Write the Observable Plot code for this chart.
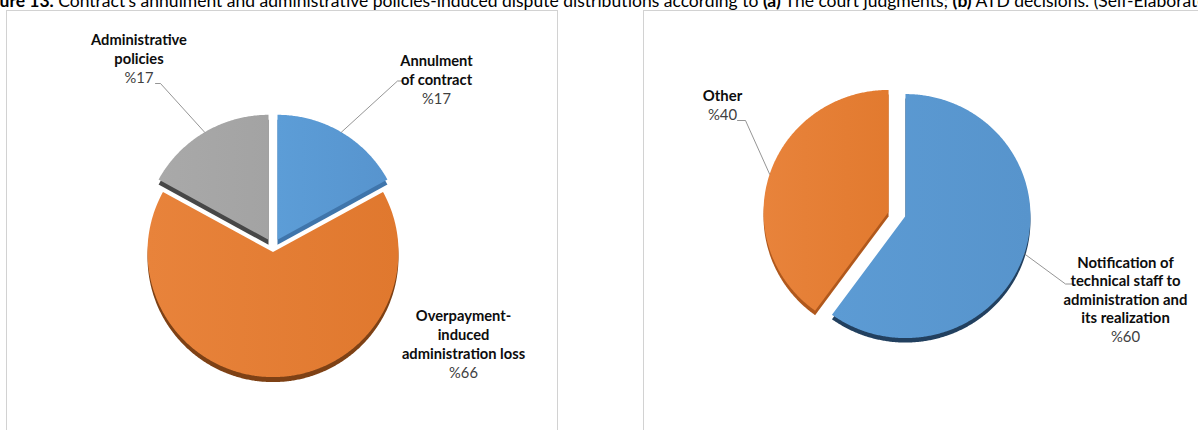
<!DOCTYPE html>
<html>
<head>
<meta charset="utf-8">
<script src="https://cdn.jsdelivr.net/npm/d3@7"></script>
<script src="https://cdn.jsdelivr.net/npm/@observablehq/plot@0.6"></script>
<style>
  html, body { margin: 0; padding: 0; background: #fff; overflow: hidden; width: 1198px; height: 430px; }
  #cap { position: absolute; left: 0; top: 0; width: 1198px; height: 10px; overflow: hidden; z-index: 2; }
  #capText { position: absolute; white-space: nowrap; font-family: Lato, "Open Sans", sans-serif; color: #000; line-height: normal; }
  #chart { position: absolute; left: 0; top: 10px; }
</style>
</head>
<body>
<div id="cap"><span id="capText"><b><span id="fig">Fig</span>ure 13.</b> Contract’s annulment and administrative policies-induced dispute distributions according to <b>(a)</b> The court judgments; <b>(b)</b> ATD decisions. (Self-Elaborat<span id="mk"></span>ed)<span id="bl" style="display:inline-block;width:0;height:0"></span></span></div>
<div id="chart"></div>
<script>
// ---------------- data ----------------
const courtCategories = ["Annulment\nof contract", "Overpayment-\ninduced\nadministration loss", "Administrative\npolicies"];
const courtValues = [17, 66, 17];
const courtPercentLabels = ["%17", "%66", "%17"];

const atdCategories = ["Notification of\ntechnical staff to\nadministration and\nits realization", "Other"];
const atdValues = [60, 40];
const atdPercentLabels = ["%60", "%40"];

// ---------------- styles & layout ----------------
const W = 1198, H = 420, TOP = 10;
const gradients = [
  {id: "gBlue", from: "#5c9dd7", to: "#5794ce"},
  {id: "gOrange", from: "#e8833b", to: "#e0782e"},
  {id: "gGray", from: "#a9a9a9", to: "#a3a3a3"},
  {id: "gBlue2", from: "#5c9bd4", to: "#5794cc"},
  {id: "gOrange2", from: "#e8833b", to: "#e27a2f"}
];
const courtColors = ["url(#gBlue)", "url(#gOrange)", "url(#gGray)"];
const courtSideColors = ["#3f75ab", "#7e4115", "#474747"];
const atdColors = ["url(#gBlue2)", "url(#gOrange2)"];
const atdSideColors = ["#22405f", "#b0581c"];

const courtPie = {cx: 272.5, cy: 245, rx: 125.5, ry: 125, explode: 8.8, tilt: 0.75, depth: 5};
const atdPie = {cx: 896.5, cy: 213.5, rx: 125, ry: 122, explode: 8.9, tilt: 0.75, depth: 4.5};

const courtLabelLayout = [
  {x: 436, y: 65, lead: [[403, 80.5], [397, 80.5]]},
  {x: 463, y: 320, lead: null},
  {x: 138.5, y: 44, lead: [[155, 83], [160, 83]]}
];
const atdLabelLayout = [
  {x: 1125, y: 267, lead: [[1073, 283.5], [1065, 283.5]]},
  {x: 722, y: 100.5, lead: [[737, 120], [745, 120]]}
];
const courtLineHeight = 19.3, atdLineHeight = 18.5;

const frames = [
  {x1: 6.5, x2: 557.5, y1: 10.5, y2: 450},
  {x1: 643.5, x2: 1220, y1: 10.5, y2: 450}
];

// ---------------- caption fit ----------------
(function () {
  const cap = document.getElementById("capText");
  const fig = document.getElementById("fig");
  const mk = document.getElementById("mk");
  const bl = document.getElementById("bl");
  cap.style.fontSize = "16px";
  const r0 = cap.getBoundingClientRect();
  const span = (mk.getBoundingClientRect().left - r0.left) - fig.getBoundingClientRect().width;
  const fs = 16 * 1199 / span;
  cap.style.fontSize = fs + "px";
  cap.style.left = (-fig.getBoundingClientRect().width - 0.5) + "px";
  cap.style.top = "0px";
  const blY = bl.getBoundingClientRect().top - cap.getBoundingClientRect().top;
  cap.style.top = (6.8 - blY) + "px";
})();

// ---------------- label font fit ----------------
const ctx = document.createElement("canvas").getContext("2d");
function fitSize(text, weight, target) {
  ctx.font = `${weight} 100px Lato`;
  return 100 * target / ctx.measureText(text).width;
}
const courtFs = fitSize("Administrative", "bold", 96);
const atdFs = fitSize("administration and", "bold", 124);

// ---------------- geometry from data ----------------
function pieGeometry(values, pie, fills, sides, prefix) {
  const arcs = d3.pie().sort(null).value(d => d)(values);
  const slices = [], shadows = [], mids = [];
  arcs.forEach((a, i) => {
    const mid = (a.startAngle + a.endAngle) / 2;
    const vx = pie.cx + pie.explode * Math.sin(mid);
    const vy = pie.cy - pie.explode * pie.tilt * Math.cos(mid);
    const pts = [[vx, vy]];
    const n = Math.max(2, Math.ceil((a.endAngle - a.startAngle) / (Math.PI / 360)));
    for (let j = 0; j <= n; j++) {
      const t = a.startAngle + (a.endAngle - a.startAngle) * j / n;
      pts.push([vx + pie.rx * Math.sin(t), vy - pie.ry * Math.cos(t)]);
    }
    pts.push([vx, vy]);
    pts.forEach(([x, y]) => {
      slices.push({id: prefix + i, x, y, fill: fills[i]});
      shadows.push({id: prefix + i, x, y: y + pie.depth, fill: sides[i]});
    });
    mids.push([vx + pie.rx * Math.sin(mid), vy - pie.ry * Math.cos(mid)]);
  });
  return {slices, shadows, mids};
}

function labelRows(categories, pct, layout, lh, mids, prefix) {
  const bold = [], normal = [], leaders = [];
  categories.forEach((c, i) => {
    const lines = c.split("\n");
    const L = layout[i];
    lines.forEach((t, j) => bold.push({text: t, x: L.x, y: L.y + j * lh}));
    normal.push({text: pct[i], x: L.x, y: L.y + lines.length * lh});
    if (L.lead) {
      [...L.lead, mids[i]].forEach(([x, y]) => leaders.push({id: prefix + i, x, y}));
    }
  });
  return {bold, normal, leaders};
}

const court = pieGeometry(courtValues, courtPie, courtColors, courtSideColors, "c");
const atd = pieGeometry(atdValues, atdPie, atdColors, atdSideColors, "a");
const courtLabels = labelRows(courtCategories, courtPercentLabels, courtLabelLayout, courtLineHeight, court.mids, "c");
const atdLabels = labelRows(atdCategories, atdPercentLabels, atdLabelLayout, atdLineHeight, atd.mids, "a");

function gradientDefs() {
  const defs = d3.create("svg:defs");
  for (const g of gradients) {
    const lg = defs.append("linearGradient").attr("id", g.id)
      .attr("x1", "0").attr("x2", "1").attr("y1", "0").attr("y2", "0");
    lg.append("stop").attr("offset", "0").attr("stop-color", g.from);
    lg.append("stop").attr("offset", "1").attr("stop-color", g.to);
  }
  return defs.node();
}

const textMark = (rows, fs, weight, color) => Plot.text(rows, {
  x: "x", y: "y", text: "text", textAnchor: "middle", lineAnchor: "bottom",
  fontFamily: "Lato", fontSize: fs, fontWeight: weight, fill: color
});

const plot = Plot.plot({
  width: W, height: H, margin: 0,
  style: {background: "#fff"},
  x: {domain: [0, W], range: [0, W], axis: null},
  y: {domain: [TOP, TOP + H], range: [0, H], axis: null},
  color: {type: "identity"},
  marks: [
    gradientDefs,
    Plot.rect(frames, {x1: "x1", x2: "x2", y1: "y1", y2: "y2", fill: "none", stroke: "#d2d2d2", strokeWidth: 1}),
    Plot.line([...court.shadows, ...atd.shadows], {x: "x", y: "y", z: "id", fill: "fill", stroke: "none", curve: "linear"}),
    Plot.line([...court.slices, ...atd.slices], {x: "x", y: "y", z: "id", fill: "fill", stroke: "none", curve: "linear"}),
    Plot.line([...courtLabels.leaders, ...atdLabels.leaders], {x: "x", y: "y", z: "id", stroke: "#7a7a7a", strokeWidth: 0.8}),
    textMark(courtLabels.bold, courtFs, "bold", "#0d0d0d"),
    textMark(courtLabels.normal, courtFs, "normal", "#404040"),
    textMark(atdLabels.bold, atdFs, "bold", "#0d0d0d"),
    textMark(atdLabels.normal, atdFs, "normal", "#404040")
  ]
});
document.getElementById("chart").appendChild(plot);
</script>
</body>
</html>
